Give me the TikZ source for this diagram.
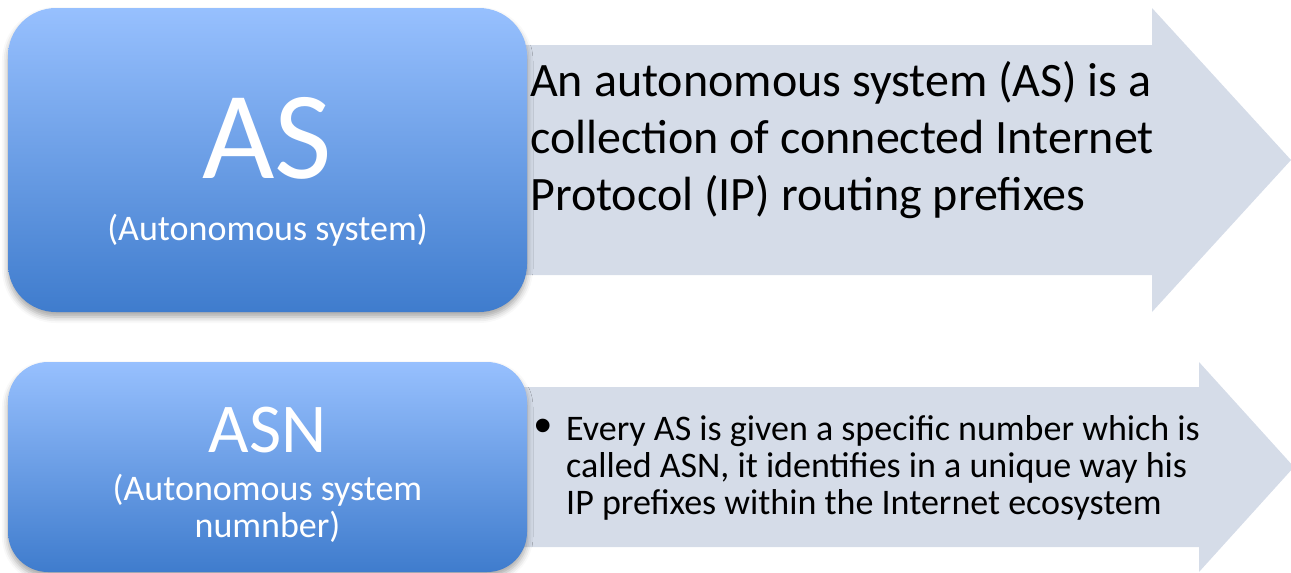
\documentclass[tikz,border=0pt]{standalone}
\usepackage{fontspec}
\setmainfont{Carlito}
\newfontfamily\bulletfont{Liberation Sans}
\usetikzlibrary{positioning,shadows.blur}
\definecolor{boxtop}{RGB}{151,192,254}
\definecolor{boxmid}{RGB}{108,156,228}
\definecolor{boxbot}{RGB}{63,124,205}
\definecolor{arrowbg}{RGB}{213,220,232}
\begin{document}
\begin{tikzpicture}[x=1pt, y=-1pt,
	box/.style = {rounded corners=#1, top color=boxtop, middle color=boxmid, bottom color=boxbot,
		blur shadow={shadow xshift=0pt, shadow yshift=-5pt, shadow blur radius=6pt, shadow opacity=35}},
	big/.style = {text=white, inner sep=0pt, font=\fontsize{#1}{#1}\selectfont},
	sub/.style = {text=white, inner sep=0pt, align=center, font=\fontsize{36pt}{37pt}\selectfont},
	bodybig/.style = {inner sep=0pt, align=left, font=\fontsize{48pt}{57pt}\selectfont},
	bodysmall/.style = {inner sep=0pt, align=left, font=\fontsize{36pt}{37pt}\selectfont}]
	\useasboundingbox (0,0) rectangle (1291,573);
	% arrows
	\fill[arrowbg] (500,45) -- (1152,45) -- (1152,8) -- (1291,160) -- (1152,312) -- (1152,275) -- (500,275) -- cycle;
	\fill[arrowbg] (500,387) -- (1199,387) -- (1199,362) -- (1294,467) -- (1199,572) -- (1199,547) -- (500,547) -- cycle;
	% boxes
	\node[box=48pt, minimum width=519pt, minimum height=304pt] (asbox) at (267.5,160) {};
	\node[box=40pt, minimum width=519pt, minimum height=210pt] (asnbox) at (267.5,467) {};
	\node[big=125pt, anchor=base] (as) at (267.5,178) {AS};
	\node[sub, anchor=base] (asname) at (267.5,240) {(Autonomous system)};
	\node[big=70pt, anchor=base] (asn) at (267.5,452) {ASN};
	% multi-line nodes sit on their last line
	\node[sub, anchor=base] (asnname) at (267.5,537) {(Autonomous system\\numnber)};
	% texts
	\node[bodybig, anchor=base west] (astext) at (530,210)
		{An autonomous system (AS) is a\\collection of connected Internet\\Protocol (IP) routing prefixes};
	\node[inner sep=0pt, anchor=base, font=\fontsize{50pt}{50pt}\bulletfont] (bullet) at (543,442) {•};
	\node[bodysmall, anchor=base west] (asntext) at (566,514)
		{Every AS is given a specific number which is\\called ASN, it identifies in a unique way his\\IP prefixes within the Internet ecosystem};
\end{tikzpicture}
\end{document}
